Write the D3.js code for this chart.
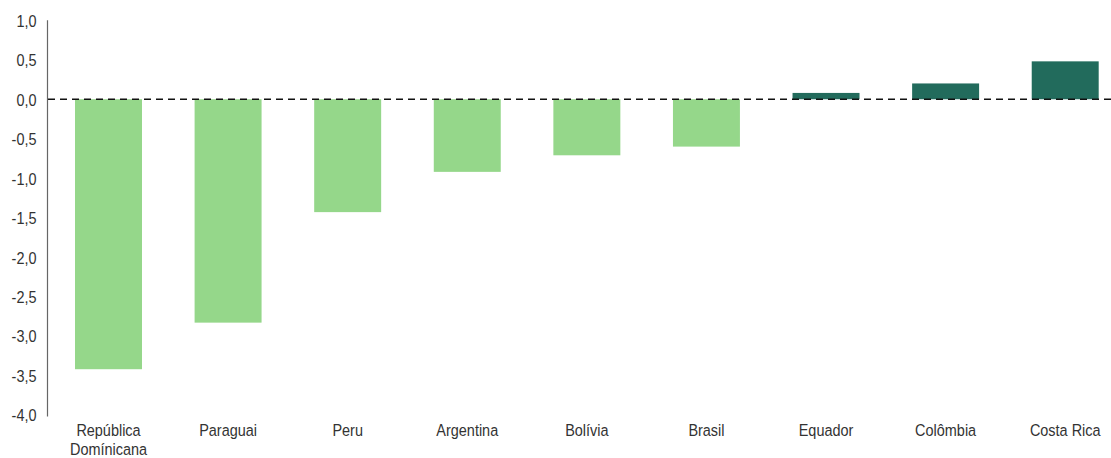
<!DOCTYPE html>
<html>
<head>
<meta charset="utf-8">
<script src="https://cdn.jsdelivr.net/npm/d3@7"></script>
<style>
  html, body { margin: 0; padding: 0; background: #fff; }
  svg { display: block; }
  text { font-family: "Liberation Sans", Arial, sans-serif; fill: #333; font-size: 17px; }
</style>
</head>
<body>
<svg id="chart" width="1111" height="458"></svg>
<script>
// Country categories and their values
const countries = ["República\nDomínicana", "Paraguai", "Peru", "Argentina", "Bolívia", "Brasil", "Equador", "Colômbia", "Costa Rica"];
const values = [-3.42, -2.83, -1.43, -0.92, -0.71, -0.60, 0.08, 0.20, 0.48];
const yTicks = [1.0, 0.5, 0.0, -0.5, -1.0, -1.5, -2.0, -2.5, -3.0, -3.5, -4.0];

const colNeg = "#95d78a";
const colPos = "#226b5c";
const squeeze = 0.85; // horizontal condensing of the label type

const svg = d3.select("#chart");

const y = d3.scaleLinear().domain([-4, 1]).range([415, 20.3]);
const x = d3.scaleBand().domain(countries).range([48.7, 1125]).paddingInner(0.44).paddingOuter(0.22);

// Bars
svg.append("g").selectAll("rect")
  .data(countries)
  .join("rect")
  .attr("x", d => x(d))
  .attr("width", x.bandwidth())
  .attr("y", (d, i) => y(Math.max(0, values[i])))
  .attr("height", (d, i) => Math.abs(y(values[i]) - y(0)))
  .attr("fill", (d, i) => values[i] < 0 ? colNeg : colPos);

// Zero reference line
svg.append("line")
  .attr("x1", 48).attr("x2", 1111)
  .attr("y1", y(0)).attr("y2", y(0))
  .attr("stroke", "#111").attr("stroke-width", 1.4)
  .attr("stroke-dasharray", "7,5");

// Y axis
const fmt = d => d3.format(".1f")(d).replace(".", ",").replace("−", "-");
const yAxis = d3.axisLeft(y)
  .tickValues(yTicks)
  .tickSize(0)
  .tickFormat(fmt);

const gy = svg.append("g").attr("transform", "translate(47.5,0)").call(yAxis);
gy.select(".domain").attr("stroke", "#666").attr("stroke-width", 1.2).attr("d", `M0,${y(1)}V${y(-4) + 1.5}`);
gy.selectAll(".tick text")
  .attr("x", null).attr("dy", null)
  .attr("dominant-baseline", "central")
  .attr("text-anchor", "end")
  .attr("font-size", 17)
  .attr("fill", "#333")
  .attr("transform", `translate(-11,0) scale(${squeeze},1)`);

// Category labels
const lbl = svg.append("g").selectAll("text")
  .data(countries)
  .join("text")
  .attr("text-anchor", "middle")
  .attr("transform", d => `translate(${x(d) + x.bandwidth() / 2},436) scale(${squeeze},1)`);
lbl.selectAll("tspan")
  .data(d => d.split("\n"))
  .join("tspan")
  .attr("x", 0)
  .attr("dy", (d, i) => i === 0 ? 0 : 19)
  .text(d => d);
</script>
</body>
</html>
